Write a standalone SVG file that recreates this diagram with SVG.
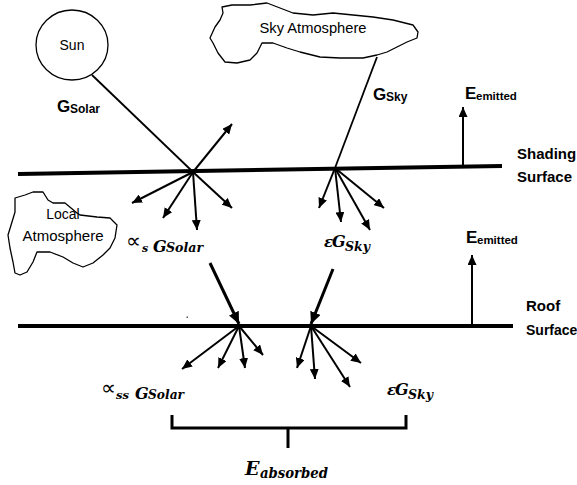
<svg xmlns="http://www.w3.org/2000/svg" width="577" height="485" viewBox="0 0 577 485">
  <style>
    .outline { fill: none; stroke: #000; stroke-width: 1.3; stroke-linejoin: round; }
    .ray { fill: none; stroke: #000; stroke-width: 1.8; }
    .arrow { fill: none; stroke: #000; stroke-width: 2; marker-end: url(#head); }
    .thick { fill: none; stroke: #000; stroke-width: 3; marker-end: url(#headBig); }
    .surface { fill: none; stroke: #000; stroke-width: 4; }
    .bracket { fill: none; stroke: #000; stroke-width: 3; stroke-linejoin: miter; }
    .lbl { font-family: "Liberation Sans", Arial, sans-serif; fill: #000; }
    .b { font-weight: bold; }
    .math { font-family: "DejaVu Serif", "Liberation Serif", serif; font-weight: bold; font-style: italic; fill: #000; }
    .sym { font-family: "DejaVu Sans", "Noto Sans", sans-serif; fill: #000; }
  </style>
  <defs>
    <marker id="head" markerUnits="userSpaceOnUse" markerWidth="11" markerHeight="9" refX="10" refY="4.5" orient="auto">
      <path d="M0,0 L10,4.5 L0,9 z" fill="#000"/>
    </marker>
    <marker id="headBig" markerUnits="userSpaceOnUse" markerWidth="13" markerHeight="11" refX="12" refY="5.5" orient="auto">
      <path d="M0,0 L12,5.5 L0,11 z" fill="#000"/>
    </marker>
  </defs>

  <!-- sources -->
  <g id="sun">
    <ellipse cx="72" cy="45" rx="36" ry="35" class="outline"/>
    <text x="72" y="50" class="lbl" font-size="14" text-anchor="middle">Sun</text>
  </g>

  <g id="sky-atmosphere">
    <path class="outline" d="M222,7 L232,5 L250,5 L267,3 L280,8 L293,13 L313,15 L333,13 L353,15 L373,17 L393,20 L413,25 L418,32 L417,38 L407,42 L397,47 L387,52 L377,55 L363,58 L340,58 L320,57 L300,52 L287,48 L273,43 L262,43 L257,53 L250,60 L237,63 L225,62 L218,53 L213,43 L210,38 L215,27 L220,20 L223,13 Z"/>
    <text x="313" y="33" class="lbl" font-size="14" text-anchor="middle" textLength="107" lengthAdjust="spacingAndGlyphs">Sky Atmosphere</text>
  </g>

  <g id="local-atmosphere">
    <path class="outline" d="M15,198 L25,195 L33,192 L43,192 L48,200 L53,203 L65,203 L77,213 L80,215 L97,217 L110,218 L117,225 L115,238 L110,248 L103,255 L93,263 L83,267 L73,263 L63,257 L50,252 L37,252 L33,262 L27,272 L20,275 L15,273 L13,262 L10,248 L8,235 L12,222 L15,212 Z"/>
    <text x="63" y="219" class="lbl" font-size="14" text-anchor="middle">Local</text>
    <text x="63" y="241" class="lbl" font-size="14" text-anchor="middle" textLength="81" lengthAdjust="spacingAndGlyphs">Atmosphere</text>
  </g>

  <!-- surfaces -->
  <g id="shading-surface">
    <line x1="18" y1="174" x2="502" y2="166" class="surface"/>
    <text x="517" y="159" class="lbl b" font-size="15">Shading</text>
    <text x="517" y="182" class="lbl b" font-size="15">Surface</text>
  </g>

  <g id="roof-surface">
    <line x1="18" y1="326" x2="513" y2="326" class="surface"/>
    <text x="526" y="311" class="lbl b" font-size="15">Roof</text>
    <text x="526" y="335" class="lbl b" font-size="14">Surface</text>
  </g>

  <!-- flux labels -->
  <g id="label-g-solar">
    <text class="lbl b" y="112"><tspan x="57" font-size="17">G</tspan><tspan x="70" y="113" font-size="12">Solar</tspan></text>
  </g>
  <g id="label-g-sky">
    <text class="lbl b" y="100"><tspan x="373" font-size="17">G</tspan><tspan x="386" y="101" font-size="12">Sky</tspan></text>
  </g>
  <g id="label-e-emitted-top">
    <text class="lbl b" y="99"><tspan x="465" font-size="17">E</tspan><tspan x="476" y="100" font-size="11.5">emitted</tspan></text>
  </g>
  <g id="label-e-emitted-roof">
    <text class="lbl b" y="243"><tspan x="466" font-size="17">E</tspan><tspan x="477" y="244" font-size="11.5">emitted</tspan></text>
  </g>

  <g id="label-alpha-s">
    <text y="248"><tspan class="sym" x="126" font-size="21">∝</tspan><tspan class="math" x="142" y="252" font-size="11">s</tspan><tspan class="math" x="153" font-size="16">G</tspan><tspan class="math" x="166" y="252" font-size="12" textLength="37" lengthAdjust="spacingAndGlyphs">Solar</tspan></text>
  </g>
  <g id="label-eps-sky-top">
    <text y="247"><tspan class="math" x="324" font-size="15">ε</tspan><tspan class="math" x="332" font-size="16">G</tspan><tspan class="math" x="345" y="251" font-size="12" textLength="25" lengthAdjust="spacingAndGlyphs">Sky</tspan></text>
  </g>
  <g id="label-alpha-ss">
    <text y="395"><tspan class="sym" x="101" font-size="21">∝</tspan><tspan class="math" x="116" y="399" font-size="11" textLength="13" lengthAdjust="spacingAndGlyphs">ss</tspan><tspan class="math" x="135" font-size="16">G</tspan><tspan class="math" x="148" y="399" font-size="12" textLength="36" lengthAdjust="spacingAndGlyphs">Solar</tspan></text>
  </g>
  <g id="label-eps-sky-roof">
    <text y="395"><tspan class="math" x="387" font-size="15">ε</tspan><tspan class="math" x="395" font-size="16">G</tspan><tspan class="math" x="408" y="399" font-size="12" textLength="25" lengthAdjust="spacingAndGlyphs">Sky</tspan></text>
  </g>

  <g id="label-e-absorbed">
    <text y="475"><tspan class="math" x="245" font-size="19">E</tspan><tspan class="math" x="260" y="478" font-size="14" textLength="68" lengthAdjust="spacingAndGlyphs">absorbed</tspan></text>
  </g>

  <g id="bracket">
    <path class="bracket" d="M172,415 L172,428 L406,428 L406,415 M288,428 L288,448"/>
  </g>

  <!-- connectors -->
  <g id="connectors">
    <!-- incoming radiation onto the shading surface -->
    <line x1="92" y1="75" x2="193" y2="172" class="ray"/>
    <line x1="377" y1="57" x2="335" y2="168" class="ray"/>

    <!-- reflected / scattered solar at the shading surface -->
    <line x1="193" y1="172" x2="232" y2="124" class="arrow"/>
    <line x1="193" y1="172" x2="132" y2="203" class="arrow"/>
    <line x1="193" y1="172" x2="163" y2="218" class="arrow"/>
    <line x1="193" y1="172" x2="197" y2="230" class="arrow"/>
    <line x1="193" y1="172" x2="232" y2="208" class="arrow"/>

    <!-- sky radiation below the shading surface -->
    <line x1="335" y1="168" x2="319" y2="208" class="arrow"/>
    <line x1="335" y1="168" x2="341" y2="222" class="arrow"/>
    <line x1="335" y1="168" x2="370" y2="230" class="arrow"/>
    <line x1="335" y1="168" x2="384" y2="208" class="arrow"/>

    <!-- emission from each surface -->
    <line x1="463" y1="165" x2="463" y2="107" class="arrow"/>
    <line x1="472" y1="324" x2="472" y2="255" class="arrow"/>

    <!-- transmitted onto the roof -->
    <line x1="210" y1="263" x2="239" y2="324" class="thick"/>
    <line x1="333" y1="269" x2="311" y2="324" class="thick"/>

    <!-- fan below the roof: solar part -->
    <line x1="239" y1="326" x2="182" y2="369" class="arrow"/>
    <line x1="239" y1="326" x2="218" y2="368" class="arrow"/>
    <line x1="239" y1="326" x2="245" y2="368" class="arrow"/>
    <line x1="239" y1="326" x2="263" y2="355" class="arrow"/>

    <!-- fan below the roof: sky part -->
    <line x1="311" y1="326" x2="297" y2="368" class="arrow"/>
    <line x1="311" y1="326" x2="315" y2="379" class="arrow"/>
    <line x1="311" y1="326" x2="350" y2="387" class="arrow"/>
    <line x1="311" y1="326" x2="361" y2="363" class="arrow"/>
  </g>

  <rect x="186.5" y="316.5" width="1.5" height="1.5" fill="#555"/>
</svg>
